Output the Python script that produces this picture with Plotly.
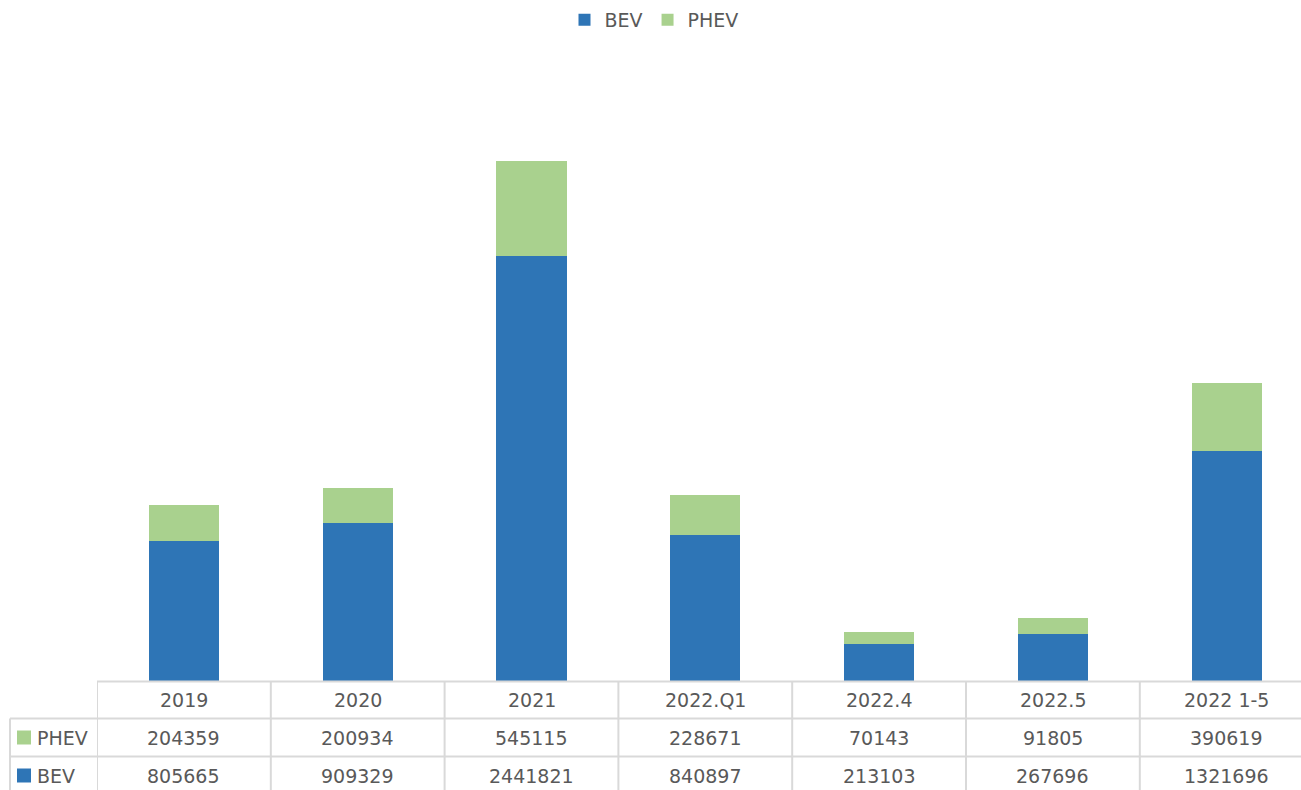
import plotly.graph_objects as go

categories = ["2019", "2020", "2021", "2022.Q1", "2022.4", "2022.5", "2022 1-5"]
bev = [805665, 909329, 2441821, 840897, 213103, 267696, 1321696]
phev = [204359, 200934, 545115, 228671, 70143, 91805, 390619]

BEV_COLOR = "#2E75B6"
PHEV_COLOR = "#A9D18E"
TXT = "#595959"
GRID = "#D9D9D9"
FONT = "DejaVu Sans"
FS = 19

OFF = 0  # body margin removed via post_script
W, H = 1301, 790
L, T = 97 - OFF, 72 - OFF
B = H - (681 - OFF)
R = 0
PH = H - T - B
PW = W - L - R
CAT_PX = 173.8
xmax = -0.5 + PW / CAT_PX


def py(p):
    return (H - B - (p - OFF)) / PH


def px(p):
    return (p - OFF - L) / PW


x = list(range(len(categories)))
fig = go.Figure()
fig.add_trace(go.Bar(x=x, y=bev, name="BEV", marker=dict(color=BEV_COLOR, line=dict(width=0))))
fig.add_trace(go.Bar(x=x, y=phev, name="PHEV", marker=dict(color=PHEV_COLOR, line=dict(width=0))))

shapes = []
annotations = []
line = dict(color=GRID, width=2)
# horizontal table lines
shapes.append(dict(type="line", xref="paper", yref="paper", x0=0, x1=1.05, y0=py(681.5), y1=py(681.5), line=line, layer="above"))
for yy in (718.5, 756.5):
    shapes.append(dict(type="line", xref="paper", yref="paper", x0=px(10), x1=1.05, y0=py(yy), y1=py(yy), line=line))
# vertical lines
for i in range(len(categories) + 1):
    shapes.append(dict(type="line", xref="x", yref="paper", x0=i - 0.5, x1=i - 0.5, y0=py(681.5), y1=py(800), line=line))
shapes.append(dict(type="line", xref="paper", yref="paper", x0=px(10), x1=px(10), y0=py(718.5), y1=py(800), line=line))

rows = [(700, None, categories), (737.5, ("PHEV", PHEV_COLOR), [str(v) for v in phev]),
        (775.5, ("BEV", BEV_COLOR), [str(v) for v in bev])]
for yc, lab, vals in rows:
    for i, v in enumerate(vals):
        annotations.append(dict(x=i, y=py(yc), xref="x", yref="paper", text=v, showarrow=False,
                                font=dict(family=FONT, size=FS, color=TXT), xanchor="center", yanchor="middle"))
    if lab:
        name, col = lab
        shapes.append(dict(type="rect", xref="paper", yref="paper", x0=px(17), x1=px(31),
                           y0=py(yc - 7), y1=py(yc + 7), fillcolor=col, line=dict(width=0)))
        annotations.append(dict(x=px(35), y=py(yc), xref="paper", yref="paper", text=name, showarrow=False,
                                font=dict(family=FONT, size=FS, color=TXT), xanchor="left", yanchor="middle"))

fig.update_layout(
    width=W, height=H,
    margin=dict(l=L, r=R, t=T, b=B),
    barmode="stack",
    bargap=0.597,
    plot_bgcolor="white", paper_bgcolor="white",
    font=dict(family=FONT, size=FS, color=TXT),
    showlegend=True,
    legend=dict(orientation="h", xref="container", yref="container", x=(654 - OFF) / W, y=1 - (20 - OFF) / H,
                xanchor="center", yanchor="middle", traceorder="normal",
                font=dict(family=FONT, size=FS, color=TXT), itemwidth=30),
    xaxis=dict(range=[-0.5, xmax], showticklabels=False, showgrid=False, zeroline=False, showline=False, ticks=""),
    yaxis=dict(range=[0, 3.5e6], visible=False, showgrid=False, zeroline=False),
    shapes=shapes,
    annotations=annotations,
)

fig.write_html(
    "out.html",
    config={"displayModeBar": False},
    post_script="document.body.style.margin='0';document.body.style.overflow='hidden';",
)
